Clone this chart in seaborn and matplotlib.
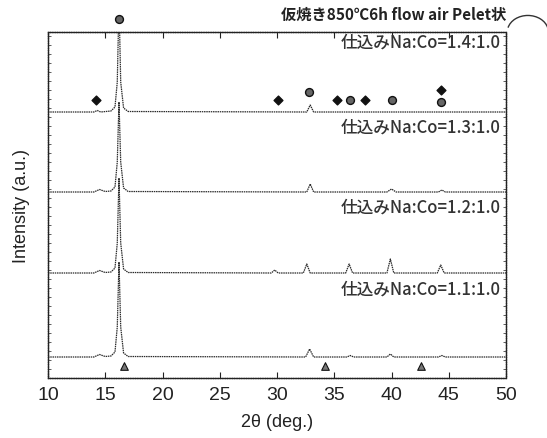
import matplotlib
matplotlib.use('Agg')
import matplotlib.pyplot as plt
from matplotlib.patches import Arc
from matplotlib.ticker import MultipleLocator
import numpy as np
import pandas as pd
import seaborn as sns

ratios = ['1.1', '1.2', '1.3', '1.4']
offsets = [21, 105, 186, 266]

tt_11 = [10, 14.0, 14.5, 15.0, 15.5, 15.85, 16.05, 16.2, 16.35, 16.6, 17.0,
         32.5, 32.85, 33.2, 36.1, 36.4, 36.7, 39.6, 39.9, 40.2, 44.1, 44.4, 44.7, 50]
int_11 = [0, 0, 2.5, 0.5, 1, 5, 30, 95, 30, 4, 0.5,
          0, 8, 0, 0, 1.5, 0, 0, 3, 0, 0, 1.5, 0, 0]

tt_12 = [10, 14.0, 14.5, 15.0, 15.5, 15.85, 16.05, 16.2, 16.35, 16.6, 17.0,
         29.5, 29.8, 30.1, 32.3, 32.6, 32.9, 36.0, 36.3, 36.6, 39.6, 39.9, 40.2,
         44.0, 44.3, 44.6, 50]
int_12 = [0, 0, 2.5, 0.5, 1, 5, 30, 95, 30, 4, 0.5,
          0, 3, 0, 0, 9, 0, 0, 9, 0, 0, 14, 0,
          0, 8, 0, 0]

tt_13 = [10, 14.0, 14.5, 15.0, 15.5, 15.85, 16.05, 16.2, 16.35, 16.6, 17.0,
         32.6, 32.9, 33.2, 39.6, 40.0, 40.4, 44.1, 44.4, 44.7, 50]
int_13 = [0, 0, 2.5, 0.5, 1, 5, 30, 90, 30, 4, 0.5,
          0, 8, 0, 0, 3, 0, 0, 2, 0, 0]

tt_14 = [10, 14.0, 14.3, 14.6, 15.5, 15.85, 16.05, 16.2, 16.35, 16.6, 17.0,
         32.6, 32.9, 33.2, 50]
int_14 = [0, 0, 1.5, 0, 1, 5, 30, 110, 30, 4, 0.5,
          0, 7, 0, 0]

# marcadores de fase
diamond_x = [14.2, 30.1, 35.2, 37.7, 44.3]
diamond_y = [278, 278, 278, 278, 288]
circle_x = [16.2, 32.8, 36.4, 40.0, 44.3]
circle_y = [359, 286, 278, 278, 276]
triangle_x = [16.6, 34.2, 42.6]
triangle_y = [12, 12, 12]

labels = ['仕込みNa:Co=1.1:1.0', '仕込みNa:Co=1.2:1.0',
          '仕込みNa:Co=1.3:1.0', '仕込みNa:Co=1.4:1.0']
label_y = [89, 171, 251, 336]
title_txt = '仮焼き850℃6h flow air Pelet状'

sns.set_theme(style='ticks')
plt.rcParams['font.family'] = ['Liberation Sans', 'Noto Sans CJK JP', 'DejaVu Sans']

fig = plt.figure(figsize=(5.47, 4.39), dpi=100)
ax = fig.add_axes([48 / 547, 60 / 439, 458 / 547, 346 / 439])

profiles = [(tt_11, int_11), (tt_12, int_12), (tt_13, int_13), (tt_14, int_14)]
for (tt, ii), off in zip(profiles, offsets):
    df = pd.DataFrame({'2theta': tt, 'I': np.array(ii) + off})
    sns.lineplot(data=df, x='2theta', y='I', ax=ax, color='#2a2a2a', lw=0.9,
                 sort=False, estimator=None, linestyle=(0, (1.2, 0.6)))

ax.scatter(diamond_x, diamond_y, marker='D', s=20, color='#111', zorder=5, clip_on=False)
ax.scatter(circle_x, circle_y, marker='o', s=32, facecolor='#666', edgecolor='#111',
           linewidth=1.0, zorder=5, clip_on=False)
ax.scatter(triangle_x, triangle_y, marker='^', s=30, facecolor='#777', edgecolor='#111',
           linewidth=0.8, zorder=5, clip_on=False)

for txt, yy in zip(labels, label_y):
    ax.text(49.5, yy, txt, ha='right', va='center', fontsize=12, color='#333',
            fontweight='medium', family=['Noto Sans CJK JP', 'DejaVu Sans'])

ax.set_xlim(10, 50)
ax.set_ylim(0, 346)
ax.xaxis.set_major_locator(MultipleLocator(5))
ax.yaxis.set_major_locator(MultipleLocator(1000))
ax.yaxis.set_minor_locator(MultipleLocator(9))
ax.tick_params(axis='x', direction='in', top=True, length=4, width=0.8,
               labelsize=14, pad=6, colors='#222')
ax.tick_params(axis='y', which='both', direction='in', right=True, left=True,
               labelleft=False, length=2.5, width=0.6, colors='#444')
for s in ax.spines.values():
    s.set_linestyle((0, (1.2, 0.5)))
    s.set_linewidth(1.0)
    s.set_color('#222')

ax.set_xlabel('2θ (deg.)', fontsize=13, labelpad=7, color='#222')
ax.set_ylabel('Intensity (a.u.)', fontsize=13, labelpad=13, color='#222')

fig.text(0.925, 0.966, title_txt, ha='right', va='center', fontsize=11,
         fontweight='bold', color='#222', family=['Noto Sans CJK JP', 'DejaVu Sans'])
fig.add_artist(Arc((0.965, 0.925), 0.075, 0.075, theta1=15, theta2=165,
                   transform=fig.transFigure, color='#333', lw=1.0))

fig.savefig('out.png', dpi=100)
